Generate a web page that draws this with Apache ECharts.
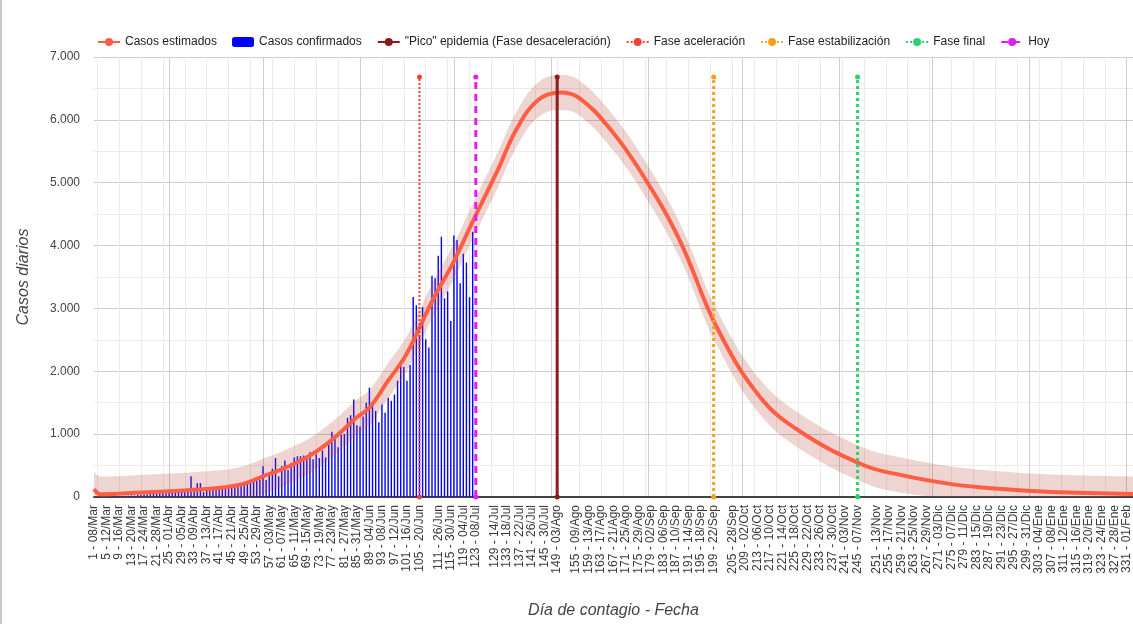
<!DOCTYPE html>
<html><head><meta charset="utf-8">
<script src="https://cdn.jsdelivr.net/npm/echarts@6/dist/echarts.min.js"></script>
<style>html,body{margin:0;padding:0;background:#fff}#c{width:1133px;height:624px}#edge{position:absolute;left:0;top:0;width:2px;height:624px;background:#c8c8c8}</style>
</head><body><div id="c"></div><div id="edge"></div>
<script>
const dayCount = 333;
const days = Array.from({length: dayCount}, (_, i) => String(i + 1));
const tickLabels = [
 "1 - 08/Mar","5 - 12/Mar","9 - 16/Mar","13 - 20/Mar","17 - 24/Mar","21 - 28/Mar","25 - 01/Abr","29 - 05/Abr","33 - 09/Abr","37 - 13/Abr",
 "41 - 17/Abr","45 - 21/Abr","49 - 25/Abr","53 - 29/Abr","57 - 03/May","61 - 07/May","65 - 11/May","69 - 15/May","73 - 19/May","77 - 23/May",
 "81 - 27/May","85 - 31/May","89 - 04/Jun","93 - 08/Jun","97 - 12/Jun","101 - 16/Jun","105 - 20/Jun","111 - 26/Jun","115 - 30/Jun","119 - 04/Jul",
 "123 - 08/Jul","129 - 14/Jul","133 - 18/Jul","137 - 22/Jul","141 - 26/Jul","145 - 30/Jul","149 - 03/Ago","155 - 09/Ago","159 - 13/Ago","163 - 17/Ago",
 "167 - 21/Ago","171 - 25/Ago","175 - 29/Ago","179 - 02/Sep","183 - 06/Sep","187 - 10/Sep","191 - 14/Sep","195 - 18/Sep","199 - 22/Sep","205 - 28/Sep",
 "209 - 02/Oct","213 - 06/Oct","217 - 10/Oct","221 - 14/Oct","225 - 18/Oct","229 - 22/Oct","233 - 26/Oct","237 - 30/Oct","241 - 03/Nov","245 - 07/Nov",
 "251 - 13/Nov","255 - 17/Nov","259 - 21/Nov","263 - 25/Nov","267 - 29/Nov","271 - 03/Dic","275 - 07/Dic","279 - 11/Dic","283 - 15/Dic","287 - 19/Dic",
 "291 - 23/Dic","295 - 27/Dic","299 - 31/Dic","303 - 04/Ene","307 - 08/Ene","311 - 12/Ene","315 - 16/Ene","319 - 20/Ene","323 - 24/Ene","327 - 28/Ene",
 "331 - 01/Feb"
];
const monthStartDays = [25, 55, 86, 116, 147, 178, 208, 239, 269, 300, 331];
const firstMonday = 2;
const yTicks = [0, 1000, 2000, 3000, 4000, 5000, 6000, 7000];

// Casos confirmados, día 1..122
const confirmed = [
 1, 0, 2, 3, 5, 4, 8, 10, 12, 15,
 18, 20, 25, 22, 30, 35, 40, 45, 50, 55,
 60, 65, 70, 75, 80, 85, 90, 95, 100, 110,
 115, 330, 120, 220, 220, 80, 110, 100, 130, 140,
 150, 140, 160, 170, 180, 160, 190, 200, 210, 230,
 250, 240, 260, 280, 490, 270, 350, 450, 620, 330,
 490, 580, 430, 540, 630, 650, 650, 660, 630, 710,
 600, 680, 620, 740, 630, 880, 1040, 950, 790, 990,
 1000, 1260, 1300, 1550, 1140, 1120, 1280, 1500, 1740, 1470,
 1370, 1190, 1470, 1340, 1580, 1530, 1630, 1850, 2170, 2070,
 1850, 2100, 3180, 3050, 2580, 3020, 2510, 2380, 3520, 3480,
 3840, 4140, 3160, 3270, 2800, 4160, 4090, 3400, 3870, 3730,
 3180, 4220
];

// Casos estimados (curva)
const estDays   = [1, 3, 10, 20, 30, 40, 45, 50, 55, 60, 65, 70, 75, 80, 85, 89, 95, 100, 103, 109, 116, 122, 130, 136, 143, 150, 156, 166, 176, 188, 200, 214, 227, 247, 259, 275, 291, 307, 333];
const estValues = [125, 45, 55, 80, 105, 140, 170, 230, 330, 420, 530, 660, 830, 1040, 1270, 1420, 1850, 2200, 2480, 3110, 3750, 4380, 5200, 5850, 6320, 6435, 6350, 5850, 5150, 4100, 2700, 1580, 1030, 505, 348, 205, 126, 79, 47];
const bandHalfWidth = 280;

const markerTop = 6680;
const dayAceleracion = 105;
const dayHoy = 123;
const dayPico = 149;
const dayEstabilizacion = 199;
const dayFinal = 245;

const FONT = '"Liberation Sans", Arial, sans-serif';
const labelMap = new Map(tickLabels.map(s => [parseInt(s, 10), s]));
const monthSet = new Set(monthStartDays);

const estPairs = estDays.map((d, i) => [d, estValues[i]]);
const bandLow = estDays.map((d, i) => [d, Math.max(0, estValues[i] - bandHalfWidth)]);
const bandSpan = estDays.map((d, i) => [d, estValues[i] + bandHalfWidth - Math.max(0, estValues[i] - bandHalfWidth)]);

function vline(name, day, color, type, width, symbolSize) {
  return {
    name, type: 'line', xAxisIndex: 2, data: [[day, 0], [day, markerTop]],
    symbol: 'circle', symbolSize, showSymbol: true, z: 6,
    itemStyle: {color},
    lineStyle: {color, type, width},
    emphasis: {disabled: true}, silent: true
  };
}

const chart = echarts.init(document.getElementById('c'), null, {renderer: 'canvas'});
chart.setOption({
  animation: false,
  textStyle: {fontFamily: FONT},
  legend: {
    top: 31, left: 92, itemWidth: 22, itemHeight: 10, itemGap: 15,
    lineStyle: {width: 2},
    textStyle: {fontSize: 12, color: '#222', fontFamily: FONT},
    data: ['Casos estimados', 'Casos confirmados', '"Pico" epidemia (Fase desaceleración)', 'Fase aceleración', 'Fase estabilización', 'Fase final', 'Hoy']
  },
  grid: {left: 94, right: 0, top: 57, bottom: 124, containLabel: false},
  xAxis: [
    {
      type: 'category', data: days, boundaryGap: false,
      axisLine: {lineStyle: {color: '#444', width: 2}},
      axisTick: {show: false},
      axisLabel: {
        interval: (i, v) => labelMap.has(+v),
        formatter: v => labelMap.get(+v) || '',
        rotate: 90, fontSize: 12, color: '#3a3a3a', margin: 8, fontFamily: FONT
      },
      splitLine: {show: true, interval: (i, v) => ((+v) - firstMonday) % 7 === 0, lineStyle: {color: '#ebebeb', width: 1}},
      name: 'Día de contagio - Fecha', nameLocation: 'middle', nameGap: 106,
      nameTextStyle: {fontStyle: 'italic', fontSize: 16, color: '#444', fontFamily: FONT}
    },
    {
      type: 'category', data: days, boundaryGap: false,
      axisLine: {show: false}, axisTick: {show: false}, axisLabel: {show: false},
      splitLine: {show: true, interval: (i, v) => monthSet.has(+v), lineStyle: {color: '#cdcdcd', width: 1}}
    },
    {type: 'time', min: 1, max: dayCount, show: false}
  ],
  yAxis: {
    type: 'value', min: yTicks[0], max: yTicks[yTicks.length - 1], interval: 1000,
    axisLine: {show: false}, axisTick: {show: false},
    axisLabel: {fontSize: 12, color: '#444', margin: 14, fontFamily: FONT,
      formatter: v => String(v).replace(/\B(?=(\d{3})+(?!\d))/g, '.')},
    splitLine: {lineStyle: {color: '#cccccc', width: 1}},
    minorTick: {show: false, splitNumber: 2},
    minorSplitLine: {show: true, lineStyle: {color: '#ebebeb', width: 1}},
    name: 'Casos diarios', nameLocation: 'middle', nameGap: 62,
    nameTextStyle: {fontStyle: 'italic', fontSize: 16, color: '#444', fontFamily: FONT}
  },
  series: [
    {
      name: 'Casos confirmados', type: 'bar', xAxisIndex: 0, data: confirmed,
      barWidth: 1.4, itemStyle: {color: '#0000ff'}, z: 2, silent: true
    },
    {
      name: 'bandLow', type: 'line', xAxisIndex: 2, data: bandLow, stack: 'band', smooth: 0.4,
      symbol: 'none', lineStyle: {opacity: 0}, silent: true, z: 3
    },
    {
      name: 'bandSpan', type: 'line', xAxisIndex: 2, data: bandSpan, stack: 'band', smooth: 0.4,
      symbol: 'none', lineStyle: {opacity: 0}, areaStyle: {color: 'rgba(180,75,55,0.33)'}, silent: true, z: 3
    },
    {
      name: 'Casos estimados', type: 'line', xAxisIndex: 2, data: estPairs, smooth: 0.4,
      symbol: 'circle', symbolSize: 5, showSymbol: false,
      itemStyle: {color: '#ff5e45'}, lineStyle: {color: '#ff5e45', width: 4}, z: 4, silent: true
    },
    vline('"Pico" epidemia (Fase desaceleración)', dayPico, '#8c1c1c', 'solid', 3, 5),
    vline('Fase aceleración', dayAceleracion, '#ee4430', 'dotted', 2, 5),
    vline('Fase estabilización', dayEstabilizacion, '#f5a11c', 'dotted', 3, 5),
    vline('Fase final', dayFinal, '#2fcf6f', 'dotted', 3, 5),
    vline('Hoy', dayHoy, '#e31cf0', [7, 5], 3, 5)
  ]
});
</script></body></html>
